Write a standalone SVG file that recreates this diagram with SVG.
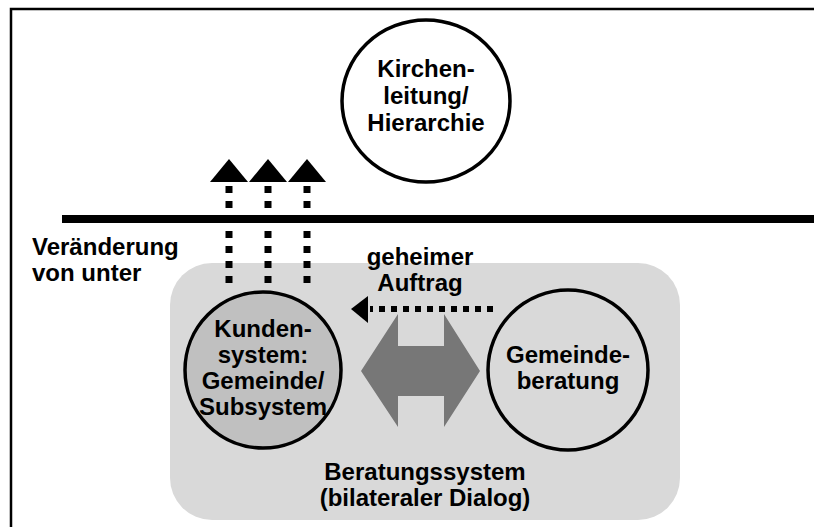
<svg xmlns="http://www.w3.org/2000/svg" width="814" height="527" viewBox="0 0 814 527">
<defs>
<style>
text{font-family:"Liberation Sans",Arial,sans-serif;font-weight:bold;font-size:24px;fill:#000;text-anchor:middle}
.l{text-anchor:start}
.node{stroke:#000;stroke-width:3.5}
.dots{stroke:#000;stroke-width:7;stroke-dasharray:7 8;fill:none}
</style>
</defs>
<rect width="814" height="527" fill="#fff"/>
<path d="M11,527 V9 H814" fill="none" stroke="#000" stroke-width="2.5"/>
<g id="beratungssystem">
<rect x="170" y="263" width="510" height="257" rx="42" fill="#d9d9d9"/>
<text x="425" y="480">Beratungssystem</text>
<text x="425" y="506">(bilateraler Dialog)</text>
</g>
<g id="grenze">
<line x1="62" y1="219" x2="814" y2="219" stroke="#000" stroke-width="8"/>
</g>
<g id="kirchenleitung">
<ellipse class="node" cx="426" cy="101" rx="84" ry="81" fill="#fff"/>
<text x="426" y="77">Kirchen-</text>
<text x="426" y="104">leitung/</text>
<text x="426" y="131">Hierarchie</text>
</g>
<g id="kundensystem">
<circle class="node" cx="263" cy="370" r="78" fill="#c0c0c0"/>
<text x="263" y="337">Kunden-</text>
<text x="263" y="363">system:</text>
<text x="263" y="389">Gemeinde/</text>
<text x="263" y="415">Subsystem</text>
</g>
<g id="gemeindeberatung">
<circle class="node" cx="568" cy="370" r="80" fill="#d9d9d9"/>
<text x="568" y="363">Gemeinde-</text>
<text x="568" y="389">beratung</text>
</g>
<g id="labels">
<text class="l" x="32" y="255">Veränderung</text>
<text class="l" x="32" y="281">von unter</text>
<text x="420" y="265">geheimer</text>
<text x="420" y="291">Auftrag</text>
</g>
<g id="connectors">
<line class="dots" x1="229" y1="186" x2="229" y2="290"/>
<line class="dots" x1="268" y1="186" x2="268" y2="290"/>
<line class="dots" x1="307" y1="186" x2="307" y2="290"/>
<polygon points="210,182 229,159 248,182"/>
<polygon points="249,182 268,159 287,182"/>
<polygon points="288,182 307,159 326,182"/>
<line x1="493" y1="309" x2="370" y2="309" stroke="#000" stroke-width="6" stroke-dasharray="6 6"/>
<polygon points="351,309 368,296 368,323"/>
<polygon fill="#777" points="361,371 398,314 398,346 444,346 444,314 480,371 444,427 444,396 398,396 398,427"/>
</g>
</svg>
